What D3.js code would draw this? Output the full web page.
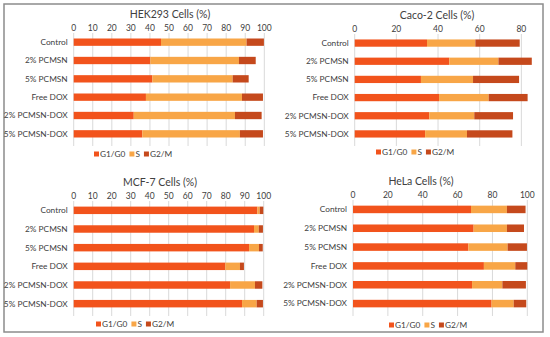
<!DOCTYPE html>
<html>
<head>
<meta charset="utf-8">
<script src="https://cdn.jsdelivr.net/npm/d3@7"></script>
<style>
  body { margin: 0; background: #fff; }
  text { font-family: Lato, "Open Sans", sans-serif; fill: #404040; }
</style>
</head>
<body>
<div id="chart"></div>
<script>
// data
const categories = ['Control', '2% PCMSN', '5% PCMSN', 'Free DOX', '2% PCMSN-DOX', '5% PCMSN-DOX'];
const phases = ['G1/G0', 'S', 'G2/M'];

const hekG1 = [45.8, 40.2, 41.3, 37.9, 31.5, 36.0];
const hekS  = [44.9, 46.5, 42.1, 50.4, 53.1, 51.2];
const hekG2 = [9.1, 8.8, 8.4, 11.0, 14.0, 12.1];

const cacoG1 = [34.7, 45.4, 31.8, 40.5, 35.8, 33.8];
const cacoS  = [23.2, 23.6, 25.0, 23.8, 21.6, 20.1];
const cacoG2 = [21.3, 16.0, 22.1, 18.7, 18.6, 21.8];

const mcfG1 = [96.7, 94.9, 92.3, 79.8, 82.3, 88.6];
const mcfS  = [1.2, 2.5, 5.2, 7.7, 13.1, 7.7];
const mcfG2 = [1.9, 2.2, 2.0, 2.1, 3.9, 3.3];

const helaG1 = [67.7, 69.2, 66.2, 75.1, 68.3, 79.5];
const helaS  = [20.6, 19.1, 22.5, 18.0, 17.4, 12.7];
const helaG2 = [10.7, 9.8, 11.1, 6.9, 13.5, 7.2];

const ticks100 = [0, 10, 20, 30, 40, 50, 60, 70, 80, 90, 100];
const ticks20 = [0, 20, 40, 60, 80];
const ticksHela = [0, 20, 40, 60, 80, 100];

const colors = ['#f2531c', '#f8a647', '#c5491c'];

const svg = d3.select('#chart').append('svg')
    .attr('width', 550)
    .attr('height', 337);

// outer frame
svg.append('rect')
    .attr('x', 4).attr('y', 4)
    .attr('width', 539).attr('height', 328)
    .attr('fill', 'none')
    .attr('stroke', '#8c8c8c')
    .attr('stroke-width', 1.5);

function panel(cfg) {
    const g = svg.append('g');
    const rows = categories.map((c, i) => ({
        cat: c, 'G1/G0': cfg.g1[i], 'S': cfg.s[i], 'G2/M': cfg.g2[i]
    }));
    const series = d3.stack().keys(phases)(rows);

    const x = d3.scaleLinear().domain(cfg.domain).range([cfg.left, cfg.right]);
    const y = d3.scaleBand().domain(categories).range([cfg.top, cfg.bottom]).paddingInner(0.6).paddingOuter(0.3);

    // gridlines
    g.selectAll('.grid')
        .data(cfg.ticks)
        .enter().append('line')
        .attr('x1', d => x(d)).attr('x2', d => x(d))
        .attr('y1', cfg.top).attr('y2', cfg.bottom + 3)
        .attr('stroke', '#d9d9d9')
        .attr('stroke-width', 1);

    // top axis labels
    g.selectAll('.tick')
        .data(cfg.ticks)
        .enter().append('text')
        .attr('x', d => x(d))
        .attr('y', cfg.top - 2)
        .attr('text-anchor', 'middle')
        .attr('font-size', 8.5)
        .text(d => d);

    g.selectAll('.layer')
        .data(series)
        .enter().append('g')
        .attr('fill', (d, i) => colors[i])
        .selectAll('rect')
        .data(d => d)
        .enter().append('rect')
        .attr('x', d => x(d[0]))
        .attr('y', d => y(d.data.cat))
        .attr('width', d => x(d[1]) - x(d[0]))
        .attr('height', y.bandwidth());

    // category labels
    g.selectAll('.cat')
        .data(categories)
        .enter().append('text')
        .attr('x', cfg.left - 6)
        .attr('y', d => y(d) + y.bandwidth() / 2)
        .attr('dy', '0.35em')
        .attr('text-anchor', 'end')
        .attr('font-size', 8.3)
        .text(d => d);

    g.append('text')
        .attr('x', cfg.titleX)
        .attr('y', cfg.titleY)
        .attr('text-anchor', 'middle')
        .attr('font-size', 10.5)
        .text(cfg.title);

    // legend
    const lg = g.append('g').attr('transform', 'translate(' + cfg.legX + ',' + cfg.legY + ')');
    let off = 0;
    phases.forEach((p, i) => {
        lg.append('rect')
            .attr('x', off).attr('y', -2.5)
            .attr('width', 5).attr('height', 5)
            .attr('fill', colors[i]);
        const t = lg.append('text')
            .attr('x', off + 6).attr('y', 0)
            .attr('dy', '0.35em')
            .attr('font-size', 8.3)
            .text(p);
        off += 6 + t.node().getComputedTextLength() + 4;
    });
}

panel({title: 'HEK293 Cells (%)', g1: hekG1, s: hekS, g2: hekG2,
    domain: [0, 100], ticks: ticks100, left: 73.7, right: 264.3, top: 33, bottom: 143,
    titleX: 170, titleY: 18, legX: 94, legY: 154});

panel({title: 'Caco-2 Cells (%)', g1: cacoG1, s: cacoS, g2: cacoG2,
    domain: [0, 90], ticks: ticks20, left: 354.7, right: 542.2, top: 34, bottom: 143,
    titleX: 437, titleY: 19, legX: 376, legY: 152});

panel({title: 'MCF-7 Cells (%)', g1: mcfG1, s: mcfS, g2: mcfG2,
    domain: [0, 100], ticks: ticks100, left: 73.7, right: 263.7, top: 201, bottom: 313,
    titleX: 160, titleY: 186, legX: 96, legY: 324});

panel({title: 'HeLa Cells (%)', g1: helaG1, s: helaS, g2: helaG2,
    domain: [0, 100], ticks: ticksHela, left: 353, right: 527.3, top: 200, bottom: 313,
    titleX: 421, titleY: 185, legX: 389, legY: 325});
</script>
</body>
</html>
